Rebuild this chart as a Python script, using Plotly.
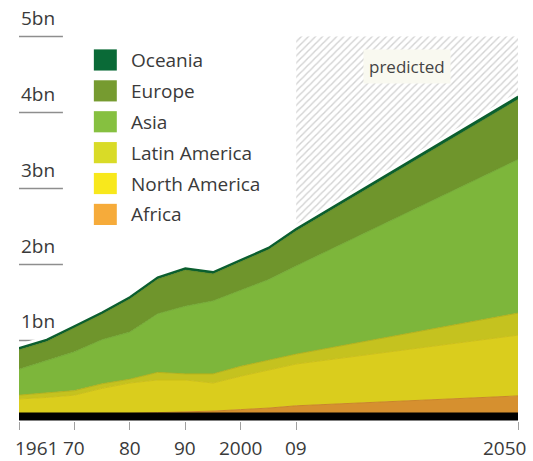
import plotly.graph_objects as go
import numpy as np

# ---- data (billions) ----
years = ['1961', '1965', '1970', '1975', '1980', '1985', '1990', '1995', '2000', '2005', '2009', '2050']
africa        = [0.03, 0.03, 0.03, 0.04, 0.04, 0.05, 0.06, 0.07, 0.09, 0.11, 0.14, 0.27]
north_america = [0.20, 0.22, 0.25, 0.33, 0.40, 0.43, 0.42, 0.37, 0.44, 0.50, 0.55, 0.80]
latin_america = [0.05, 0.06, 0.06, 0.06, 0.05, 0.10, 0.08, 0.12, 0.13, 0.13, 0.13, 0.29]
asia          = [0.34, 0.42, 0.51, 0.58, 0.62, 0.77, 0.89, 0.96, 1.00, 1.06, 1.16, 2.02]
europe        = [0.255, 0.255, 0.315, 0.335, 0.435, 0.455, 0.475, 0.355, 0.375, 0.395, 0.46, 0.79]
oceania       = [0.025, 0.025, 0.025, 0.025, 0.025, 0.025, 0.025, 0.025, 0.025, 0.025, 0.03, 0.04]

x_tick_years  = ['1961', '1970', '1980', '1990', '2000', '2009', '2050']
x_tick_labels = ['1961', '70', '80', '90', '2000', '09', '2050']
y_ticks       = [1, 2, 3, 4, 5]
y_tick_labels = ['1bn', '2bn', '3bn', '4bn', '5bn']

series_names  = ['Africa', 'North America', 'Latin America', 'Asia', 'Europe', 'Oceania']
series_values = [africa, north_america, latin_america, asia, europe, oceania]
fill_colors   = ['#d6902f', '#dacd1d', '#c5c21f', '#7db63b', '#6f952c', '#0d6632']
edge_colors   = ['#c9852a', '#cbbf19', '#b4b11b', '#74aa36', '#668a28', '#0b5e2e']
legend_colors = ['#f6ab3a', '#f8e81c', '#d9db27', '#86c040', '#769b30', '#0a6a37']

# axis categories: observed periods, evenly spaced slots through the projection, then 2050
gap_slots = [f'gap{i}' for i in range(7)]
categories = years[:-1] + gap_slots + years[-1:]

predicted_from, predicted_to = years[-2], years[-1]

fig = go.Figure()

# hatched "predicted" region
fig.add_trace(go.Scatter(
    x=[predicted_from, predicted_to, predicted_to, predicted_from, predicted_from],
    y=[0, 0, y_ticks[-1], y_ticks[-1], 0],
    mode='lines', fill='toself', fillcolor='white', line=dict(width=0),
    fillpattern=dict(shape='/', fgcolor='#a6a6a6', bgcolor='white', size=5, solidity=0.28),
    hoverinfo='skip', showlegend=False))

# white halo along the total curve
total = np.sum(np.array(series_values), axis=0)
fig.add_trace(go.Scatter(x=years, y=total, mode='lines',
                         line=dict(color='white', width=8), hoverinfo='skip', showlegend=False))

for name, vals, fc, ec in zip(series_names, series_values, fill_colors, edge_colors):
    lw = 2 if name == 'Oceania' else 1
    fig.add_trace(go.Scatter(
        x=years, y=vals, name=name, mode='lines', stackgroup='one',
        fillcolor=fc, line=dict(color=ec, width=lw), showlegend=False))

shapes = []
annotations = []

# short gridline stubs + y labels
for v, lab in zip(y_ticks, y_tick_labels):
    shapes.append(dict(type='line', xref='paper', yref='y', x0=0, x1=0.088, y0=v, y1=v,
                       line=dict(color='#8e8e8e', width=1.5), layer='below'))
    annotations.append(dict(x=0, xref='paper', y=v, yref='y', text=lab, showarrow=False,
                            xanchor='left', yanchor='bottom', xshift=0, yshift=4,
                            font=dict(family='Open Sans', size=19, color='#3a3a3a')))

# thick black baseline
shapes.append(dict(type='line', xref='paper', yref='y', x0=0, x1=1, y0=0, y1=0,
                   line=dict(color='black', width=8), layer='above'))

# x labels
for i, (v, lab) in enumerate(zip(x_tick_years, x_tick_labels)):
    if i == 0:
        anchor, shift = 'left', -6
    elif i == len(x_tick_years) - 1:
        anchor, shift = 'right', 10
    else:
        anchor, shift = 'center', 0
    annotations.append(dict(x=categories.index(v), xref='x', y=0, yref='paper', text=lab,
                            showarrow=False, xanchor=anchor, yanchor='top', xshift=shift,
                            yshift=-12, font=dict(family='Open Sans', size=19, color='#3a3a3a')))

# legend (manual)
leg_x0, leg_x1, leg_text_x = 0.150, 0.196, 0.220
leg_top, leg_pitch, leg_half = 0.921, 0.0788, 0.027
for k, (name, col) in enumerate(zip(series_names[::-1], legend_colors[::-1])):
    yc = leg_top - k * leg_pitch
    shapes.append(dict(type='rect', xref='paper', yref='paper', x0=leg_x0, x1=leg_x1,
                       y0=yc - leg_half, y1=yc + leg_half, fillcolor=col,
                       line=dict(width=0), layer='above'))
    annotations.append(dict(x=leg_text_x, xref='paper', y=yc, yref='paper', text=name,
                            showarrow=False, xanchor='left', yanchor='middle',
                            font=dict(family='Open Sans', size=19, color='#3a3a3a')))

# predicted label
annotations.append(dict(x=0.778, xref='paper', y=4.6, yref='y', text='predicted', showarrow=False,
                        xanchor='center', yanchor='middle', bgcolor='#f9f9f0', borderpad=5,
                        font=dict(family='Open Sans', size=17, color='#444444')))

fig.update_layout(
    width=533, height=461,
    margin=dict(l=19, r=15, t=29, b=40),
    paper_bgcolor='white', plot_bgcolor='white',
    showlegend=False,
    shapes=shapes, annotations=annotations,
    xaxis=dict(type='category', categoryorder='array', categoryarray=categories,
               range=[0, len(categories) - 1], tickvals=x_tick_years,
               showticklabels=False, ticks='outside', ticklen=8, tickcolor='#a0a0a0',
               tickwidth=1, showgrid=False, zeroline=False, showline=False, fixedrange=True),
    yaxis=dict(range=[-0.06, 5.1], visible=False, fixedrange=True),
)

fig.write_html('out.html', config={'displayModeBar': False},
               post_script="document.body.style.margin='0';")
